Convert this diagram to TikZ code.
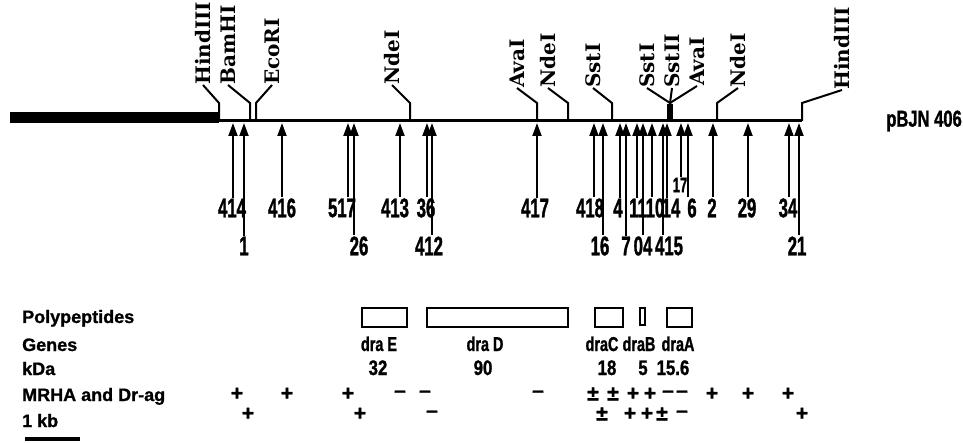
\documentclass[tikz,border=0pt]{standalone}
\usepackage{fontspec}
\setmainfont{Liberation Serif}
\newfontfamily\serifb{DejaVu Serif}
\newfontfamily\cndA[FakeStretch=0.62,FakeBold=1.2]{Liberation Sans}
\newfontfamily\cndB[FakeStretch=0.8,FakeBold=1.2]{Liberation Sans}
\newfontfamily\cndC[FakeStretch=0.72,FakeBold=1.2]{Liberation Sans}
\newfontfamily\plainsans[FakeBold=1]{Liberation Sans}
\usetikzlibrary{arrows.meta}
\newcommand\sitefont{\serifb\bfseries\fontsize{20}{20}\selectfont}
\newcommand\numfont{\cndA\bfseries\fontsize{27}{27}\selectfont}
\newcommand\smnumfont{\cndA\bfseries\fontsize{21}{21}\selectfont}
\newcommand\rowfont{\plainsans\bfseries\fontsize{18}{18}\selectfont}
\newcommand\genefont{\cndC\bfseries\fontsize{20}{20}\selectfont}
\newcommand\kdafont{\cndB\bfseries\fontsize{21}{21}\selectfont}
\newcommand\signfont{\plainsans\bfseries\fontsize{21}{21}\selectfont}
\newcommand\plasfont{\cndC\bfseries\fontsize{23}{23}\selectfont}
\tikzset{
  site/.style={font=\sitefont, rotate=90, anchor=west, inner sep=0pt},
  lead/.style={line width=2pt},
  num/.style={font=\numfont, inner sep=0pt},
  arr/.style={line width=2pt, -{Triangle[length=13pt,width=9pt]}},
  rowlab/.style={font=\rowfont, anchor=base west, inner sep=0pt},
  gene/.style={font=\genefont, anchor=base, inner sep=0pt},
  kdanum/.style={font=\kdafont, anchor=base, inner sep=0pt},
  sign/.style={font=\signfont, inner sep=0pt},
  pbox/.style={draw, line width=2.5pt},
}
\begin{document}
\begin{tikzpicture}[x=1pt, y=-1pt]
\useasboundingbox (0,0) rectangle (963,443);
% map
\fill (10,112) rectangle (219,123);
\draw[line width=3pt] (219,121) -- (802,121);
\coordinate (kink) at (0,103);
\foreach \nm/\txt/\lx/\ly/\sx in {h1/HindIII/203/85/219, b1/BamHI/228/85/250, e1/EcoRI/272/85/256, n1/NdeI/392/85/410, av1/AvaI/517/88/537, n2/NdeI/548/88/568, s1/SstI/593/88/612, s2/SstI/647/88/670, s3/SstII/672/88/670, av2/AvaI/697/86/670, n3/NdeI/738/88/717, h2/HindIII/842/90/802}{
  \node[site] (\nm) at (\lx,\ly) {\txt};
  \coordinate (c\nm) at (\sx,121);
  \draw[lead] (\nm.west) -- (c\nm |- kink) -- (c\nm);
}
\fill (667,104) rectangle (673,121);
\node[font=\plasfont, anchor=east, inner sep=0pt] (plasmid) at (962,121) {pBJN 406};
% insertion arrows
\foreach \n/\ax/\lx/\ly in {414/233/232/208, 416/282/282/208, 517/348/342/208, 413/400/395/208, 36/427/426/208, 417/537/535/208, 418/594/590/208, 4/620/618/208, 11/637/638/208, 10/652/655/208, 14/667/671/208, 6/688/692/208, 2/713/712/208, 29/748/747/208, 34/789/788/208, 1/244/244/246, 26/354/359/246, 412/432/429/246, 16/603/600/246, 7/626/626/246, 04/643/643/246, 415/663/669/246, 21/799/797/246}{
  \coordinate (a\n) at (\ax,123);
  \node[num] (l\n) at (\lx,\ly) {\n};
  \draw[arr] ([yshift=1pt]l\n.north -| a\n) -- (a\n);
}
\coordinate (a17) at (681,123);
\node[num, font=\smnumfont] (l17) at (680,185) {17};
\draw[arr] ([yshift=1pt]l17.north -| a17) -- (a17);
% rows
\node[rowlab] (poly) at (22,323) {Polypeptides};
\node[rowlab] (genes) at (22,351) {Genes};
\node[rowlab] (kda) at (22,375) {kDa};
\node[rowlab] (mrha) at (22,401) {MRHA and Dr-ag};
\node[rowlab] (kb) at (22,427) {1 kb};
\draw[line width=4pt] (25,439) -- (80,439);
% polypeptides
\draw[pbox] (362,308) rectangle (407,327);
\draw[pbox] (427,308) rectangle (568,327);
\draw[pbox] (595,308) rectangle (623,327);
\draw[pbox] (640,308) rectangle (645,325);
\draw[pbox] (667,308) rectangle (692,327);
% genes
\node[gene] (gE) at (379,351) {dra E};
\node[gene] (gD) at (485,351) {dra D};
\node[gene] (gC) at (602,351) {draC};
\node[gene] (gB) at (639,351) {draB};
\node[gene] (gA) at (678,351) {draA};
% kDa
\node[kdanum] (kE) at (378,375) {32};
\node[kdanum] (kD) at (483,375) {90};
\node[kdanum] (kC) at (607,375) {18};
\node[kdanum] (kB) at (643,375) {5};
\node[kdanum] (kA) at (673,375) {15.6};
% signs
\foreach \x/\s [count=\i] in {237/+, 287/+, 348/+, 400/–, 425/–, 538/–, 593/±, 613/±, 633/+, 650/+, 668/–, 682/–, 712/+, 748/+, 788/+}{
  \node[sign] (sa\i) at (\x,394) {\s};
}
\foreach \x/\s [count=\i] in {248/+, 360/+, 432/–, 602/±, 630/+, 647/+, 662/±, 682/–, 802/+}{
  \node[sign] (sb\i) at (\x,414) {\s};
}
\end{tikzpicture}
\end{document}
